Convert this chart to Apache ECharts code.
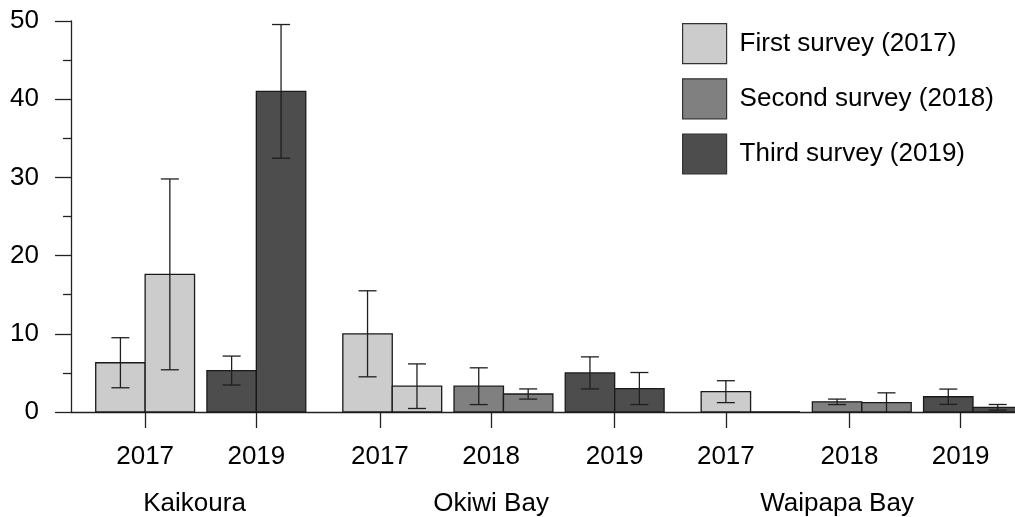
<!DOCTYPE html>
<html>
<head>
<meta charset="utf-8">
<script src="https://cdn.jsdelivr.net/npm/echarts@6/dist/echarts.min.js"></script>
<style>
html,body{margin:0;padding:0;background:#ffffff;}
#chart{width:1015px;height:517px;}
</style>
</head>
<body>
<div id="chart"></div>
<script>
// ---------------- data ----------------
const sites = ['Kaikoura', 'Okiwi Bay', 'Waipapa Bay'];
const years = ['2017', '2018', '2019'];
const surveyNames = ['First survey (2017)', 'Second survey (2018)', 'Third survey (2019)'];
// means: per site, two bars per survey (null = site not surveyed that year)
const survey2017 = [[6.3, 17.6], [10.0, 3.3], [2.6, 0.0]];
const survey2018 = [null, [3.3, 2.3], [1.3, 1.2]];
const survey2019 = [[5.3, 41.0], [5.0, 3.0], [1.95, 0.6]];
// standard errors for the same bars
const se2017 = [[3.2, 12.2], [5.5, 2.85], [1.4, 0]];
const se2018 = [null, [2.35, 0.65], [0.35, 1.25]];
const se2019 = [[1.85, 8.55], [2.05, 2.05], [0.98, 0.36]];
const yTickLabels = ['0', '10', '20', '30', '40', '50'];

// ---------------- layout ----------------
const means = [survey2017, survey2018, survey2019];
const ses = [se2017, se2018, se2019];
const colors = ['#cccccc', '#808080', '#4d4d4d'];
const FONT = 'Liberation Sans, Arial, Helvetica, sans-serif';
const FS = 26;
const BAR = 4, PAIR_GAP = 1, SITE_GAP = 3; // x units

const slots = [];
let pos = 0;
sites.forEach((s, si) => {
  if (si > 0) pos += SITE_GAP - PAIR_GAP;
  years.forEach((y, yi) => {
    if (!means[yi][si]) return;
    slots.push({ si, yi, start: pos });
    pos += 2 * BAR + PAIR_GAP;
  });
});
// year ticks: spread evenly across the pairs, snapped to the unit grid
const firstTick = slots[0].start + BAR;
const lastTick = slots[slots.length - 1].start + BAR - 1;
const tickUnits = slots.map((s, k) => Math.round(firstTick + k * (lastTick - firstTick) / (slots.length - 1)));
const tickLabel = {};
slots.forEach((s, k) => { tickLabel[tickUnits[k]] = years[s.yi]; });
// site labels: centred under each site's year ticks
const siteUnits = sites.map((s, si) => {
  const ks = slots.map((sl, k) => sl.si === si ? k : -1).filter(k => k >= 0);
  return (tickUnits[ks[0]] + tickUnits[ks[ks.length - 1]]) / 2 - 0.5;
});
const siteLabel = {};
siteUnits.forEach((u, si) => { siteLabel[u] = sites[si]; });

function seriesData(yi) {
  const out = [];
  slots.filter(s => s.yi === yi).forEach(s => {
    const m = means[yi][s.si], e = ses[yi][s.si];
    for (let b = 0; b < 2; b++) out.push([s.start + b * BAR, m[b], e[b]]);
  });
  return out;
}

function renderItem(params, api) {
  const x0 = api.value(0), v = api.value(1), e = api.value(2);
  const p0 = api.coord([x0, 0]);
  const p1 = api.coord([x0 + BAR, v]);
  const children = [{
    type: 'rect',
    shape: { x: p0[0], y: p1[1], width: p1[0] - p0[0], height: p0[1] - p1[1] },
    style: { fill: colors[params.seriesIndex], stroke: '#1a1a1a', lineWidth: 1.3 }
  }];
  if (e > 0) {
    const xc = x0 + BAR / 2;
    const top = api.coord([xc, v + e]);
    const bot = api.coord([xc, Math.max(v - e, 0)]);
    const cap = 9;
    const ls = { stroke: '#1f1f1f', lineWidth: 1.3 };
    children.push({ type: 'line', shape: { x1: top[0], y1: top[1], x2: bot[0], y2: bot[1] }, style: ls });
    children.push({ type: 'line', shape: { x1: top[0] - cap, y1: top[1], x2: top[0] + cap, y2: top[1] }, style: ls });
    if (v - e > 0) children.push({ type: 'line', shape: { x1: bot[0] - cap, y1: bot[1], x2: bot[0] + cap, y2: bot[1] }, style: ls });
  }
  return { type: 'group', children };
}

const X_MIN = -2, X_MAX = 74.4;
const axisLineStyle = { color: '#222', width: 1.3 };

const option = {
  animation: false,
  backgroundColor: '#ffffff',
  textStyle: { fontFamily: FONT },
  grid: { left: 71, right: 0, top: 21, bottom: 105, containLabel: false },
  legend: {
    orient: 'vertical', left: 682, top: 23, padding: 0,
    itemWidth: 44, itemHeight: 40, itemGap: 14,
    icon: 'rect', selectedMode: false,
    itemStyle: { borderColor: '#333', borderWidth: 1.2 },
    textStyle: { fontSize: FS, color: '#000', fontFamily: FONT, padding: [0, 0, 0, 8] },
    data: surveyNames
  },
  xAxis: [{
    type: 'value', min: X_MIN, max: X_MAX,
    splitLine: { show: false },
    axisLine: { show: true, onZero: false, lineStyle: axisLineStyle },
    axisTick: { show: true, length: 16, customValues: tickUnits, lineStyle: axisLineStyle },
    axisLabel: {
      show: true, customValues: tickUnits, margin: 32,
      fontSize: FS, color: '#000', fontFamily: FONT,
      formatter: v => tickLabel[v] || ''
    }
  }, {
    type: 'value', min: X_MIN, max: X_MAX, position: 'bottom',
    splitLine: { show: false },
    axisLine: { show: false, onZero: false },
    axisTick: { show: false },
    axisLabel: {
      show: true, customValues: siteUnits, margin: 79,
      fontSize: FS, color: '#000', fontFamily: FONT,
      formatter: v => siteLabel[v] || ''
    }
  }],
  yAxis: {
    type: 'value', min: 0, max: 50, interval: 10,
    splitLine: { show: false },
    axisLine: { show: true, onZero: false, lineStyle: axisLineStyle },
    axisTick: { show: true, length: 16, lineStyle: axisLineStyle },
    minorTick: { show: true, splitNumber: 2, length: 8, lineStyle: axisLineStyle },
    axisLabel: {
      margin: 32, fontSize: FS, color: '#000', fontFamily: FONT,
      formatter: v => yTickLabels[Math.round(v / 10)]
    }
  },
  series: surveyNames.map((name, yi) => ({
    name, type: 'custom', xAxisIndex: 0,
    itemStyle: { color: colors[yi], borderColor: '#333', borderWidth: 1.2 },
    renderItem,
    encode: { x: 0, y: 1 },
    data: seriesData(yi)
  }))
};

const chart = echarts.init(document.getElementById('chart'), null, { renderer: 'canvas' });
chart.setOption(option);
</script>
</body>
</html>
